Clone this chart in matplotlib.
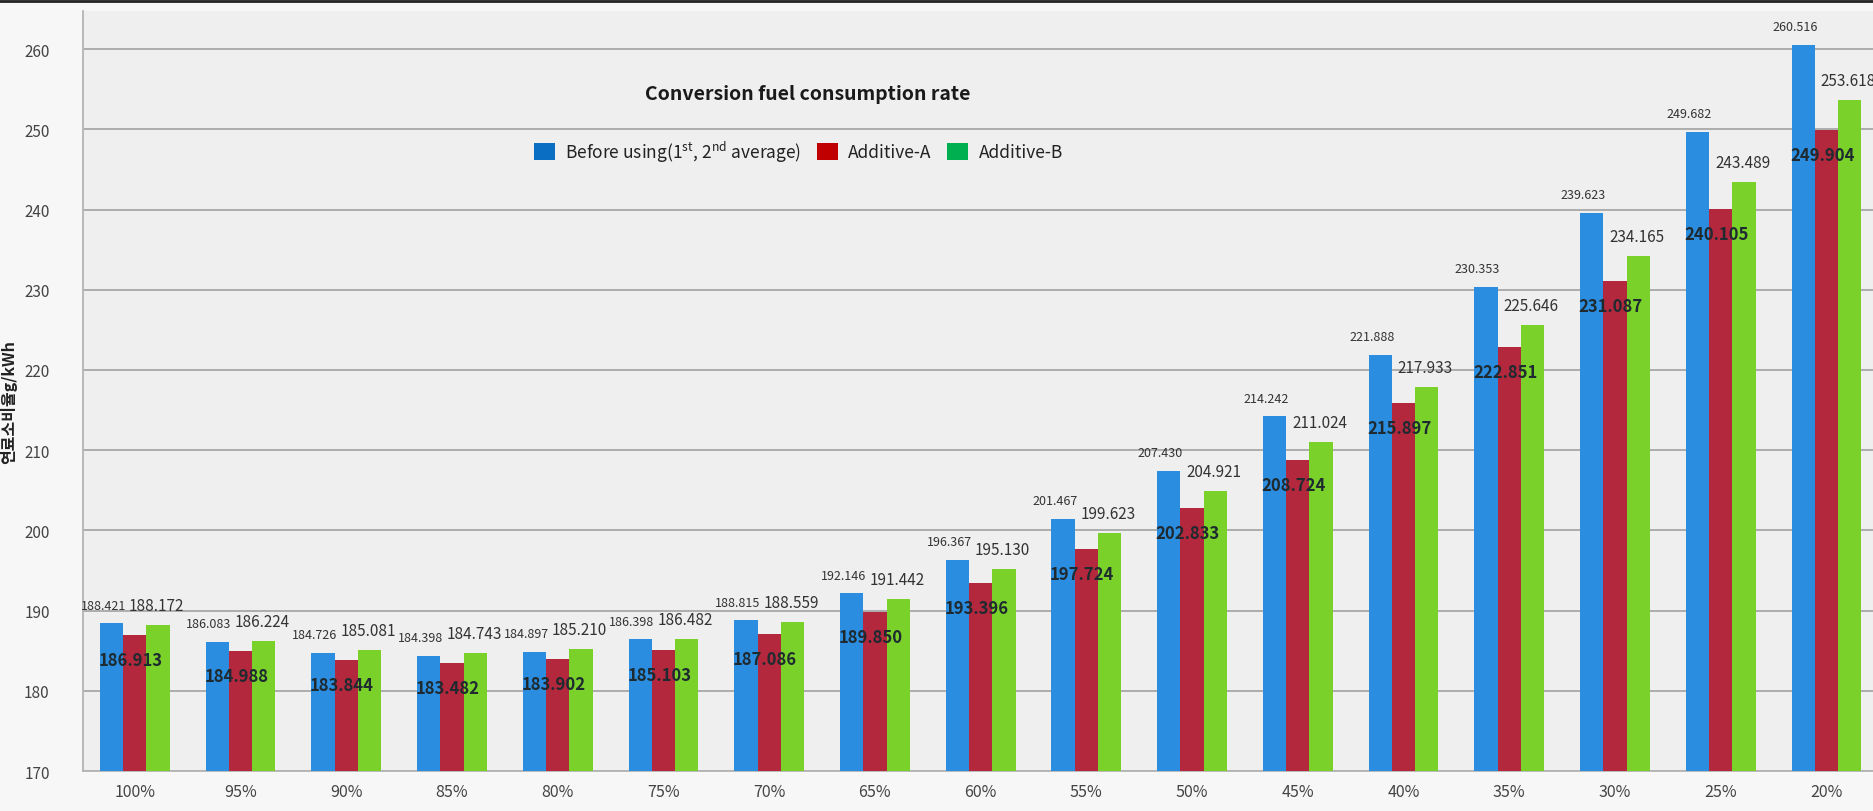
from __future__ import annotations

import matplotlib

matplotlib.use("Agg")
import matplotlib.pyplot as plt
import numpy as np
from matplotlib.lines import Line2D
from matplotlib.patches import Patch

plt.rcParams["font.family"] = ["Noto Sans CJK KR", "DejaVu Sans"]
plt.rcParams["mathtext.default"] = "regular"

CATEGORIES = ["100%", "95%", "90%", "85%", "80%", "75%", "70%", "65%", "60%",
              "55%", "50%", "45%", "40%", "35%", "30%", "25%", "20%"]
BEFORE = [188.421, 186.083, 184.726, 184.398, 184.897, 186.398, 188.815, 192.146, 196.367,
          201.467, 207.430, 214.242, 221.888, 230.353, 239.623, 249.682, 260.516]
ADDITIVE_A = [186.913, 184.988, 183.844, 183.482, 183.902, 185.103, 187.086, 189.850, 193.396,
              197.724, 202.833, 208.724, 215.897, 222.851, 231.087, 240.105, 249.904]
ADDITIVE_B = [188.172, 186.224, 185.081, 184.743, 185.210, 186.482, 188.559, 191.442, 195.130,
              199.623, 204.921, 211.024, 217.933, 225.646, 234.165, 243.489, 253.618]
Y_TICKS = [170, 180, 190, 200, 210, 220, 230, 240, 250, 260]

BAR_COLORS = ["#2b8ddf", "#b3283d", "#7ad12a"]
LEGEND_COLORS = ["#0a6fc2", "#c00000", "#00b050"]
LEGEND_LABELS = [r"Before using(1$^{st}$, 2$^{nd}$ average)", "Additive-A", "Additive-B"]


def main() -> None:
    fig = plt.figure(figsize=(18.74, 8.12), dpi=100, facecolor="#f7f7f7")
    ax = fig.add_axes([83 / 1874, 40 / 812, 1 - 83 / 1874, 760 / 812])
    ax.set_facecolor("#efefef")

    x = np.arange(len(CATEGORIES))
    width = 0.22
    series = [BEFORE, ADDITIVE_A, ADDITIVE_B]
    bars = []
    for i, (values, color) in enumerate(zip(series, BAR_COLORS)):
        bars.append(ax.bar(x + (i - 1) * width, values, width=width, color=color, zorder=3))

    # value labels: small above blue, bold inside red, larger above green
    for rect, v in zip(bars[0], BEFORE):
        ax.annotate(f"{v:.3f}", (rect.get_x() + rect.get_width() / 2, v),
                    xytext=(-6, 13), textcoords="offset points",
                    ha="center", va="center", fontsize=9, color="#333333", zorder=5)
    for rect, v in zip(bars[1], ADDITIVE_A):
        ax.annotate(f"{v:.3f}", (rect.get_x() + rect.get_width() / 2, v),
                    xytext=(-3, -18), textcoords="offset points",
                    ha="center", va="center", fontsize=12, fontweight="bold",
                    color="#1e2a30", zorder=5)
    for rect, v in zip(bars[2], ADDITIVE_B):
        ax.annotate(f"{v:.3f}", (rect.get_x() + rect.get_width() / 2, v),
                    xytext=(-1, 14), textcoords="offset points",
                    ha="center", va="center", fontsize=11, color="#333333", zorder=6)

    ax.set_ylim(170, 264.75)
    ax.set_xlim(-0.49, 16.45)
    ax.set_yticks(Y_TICKS)
    ax.set_xticks(x)
    ax.set_xticklabels(CATEGORIES)
    ax.tick_params(axis="y", length=0, pad=24, labelsize=11, labelcolor="#444444")
    ax.tick_params(axis="x", length=0, pad=9, labelsize=11.5, labelcolor="#444444")
    ax.grid(axis="y", color="#a8a8a8", linewidth=1.3, zorder=1)
    for side in ("top", "right"):
        ax.spines[side].set_visible(False)
    for side in ("left", "bottom"):
        ax.spines[side].set_color("#b4b4b4")
        ax.spines[side].set_linewidth(1.3)

    fig.text(9 / 1874, 1 - 402 / 812, "연료소비율g/kWh", rotation=90,
             ha="center", va="center", fontsize=11.5, fontweight="bold", color="#222222")
    fig.text(0.431, 1 - 95 / 812, "Conversion fuel consumption rate",
             ha="center", va="center", fontsize=14, fontweight="bold", color="#1a1a1a")

    handles = [Patch(facecolor=c, edgecolor="none") for c in LEGEND_COLORS]
    fig.legend(handles, LEGEND_LABELS, loc="center", bbox_to_anchor=(0.426, 1 - 152 / 812),
               ncol=3, frameon=False, fontsize=12.5, handlelength=1.2, handleheight=1.2,
               columnspacing=0.9, handletextpad=0.6, labelcolor="#222222")

    fig.add_artist(Line2D([0, 1], [0.997, 0.997], transform=fig.transFigure,
                          color="#222222", linewidth=2))

    fig.savefig("out.png", dpi=100, facecolor=fig.get_facecolor())
    plt.close(fig)


if __name__ == "__main__":
    main()
